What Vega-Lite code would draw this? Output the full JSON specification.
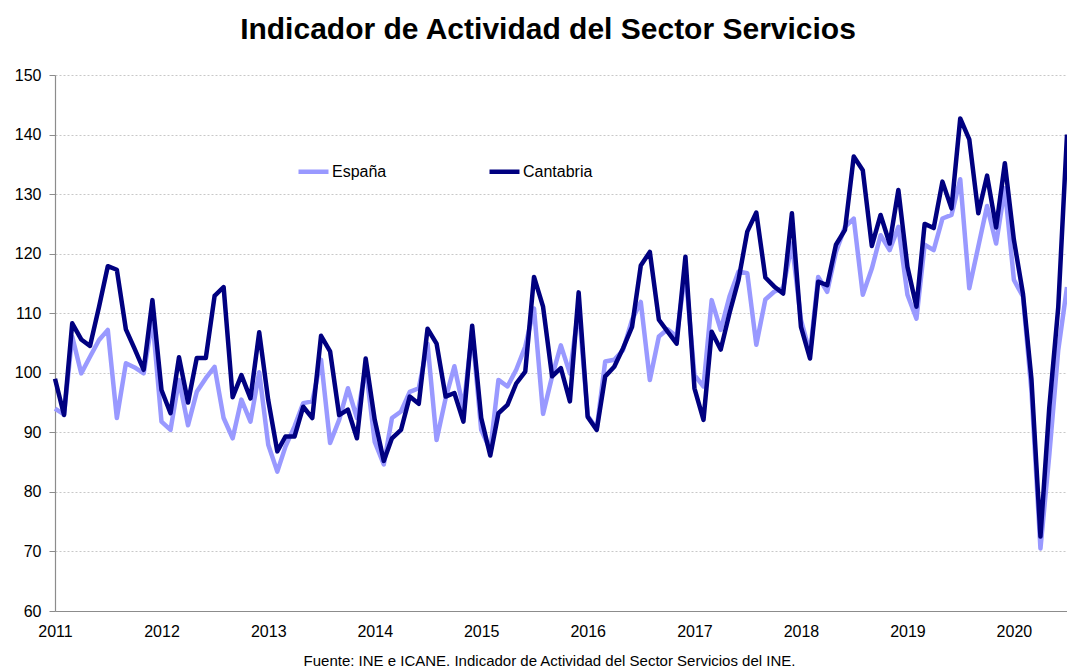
{
  "$schema": "https://vega.github.io/schema/vega-lite/v6.json",
  "width": 1012,
  "height": 536,
  "autosize": {"type": "none"},
  "padding": {"left": 55, "top": 75, "right": 0, "bottom": 57},
  "background": "white",
  "config": {"view": {"stroke": null}, "font": "Liberation Sans"},
  "title": {"text": "Indicador de Actividad del Sector Servicios", "font": "Liberation Sans", "fontSize": 30, "fontWeight": "bold", "color": "black", "anchor": "middle", "dx": -13, "offset": 22},
  "data": {"values": [
    {"fecha":"2011-01-01","serie":"Cantabria","valor":99.0},{"fecha":"2011-02-01","serie":"Cantabria","valor":92.9},{"fecha":"2011-03-01","serie":"Cantabria","valor":108.3},{"fecha":"2011-04-01","serie":"Cantabria","valor":105.6},{"fecha":"2011-05-01","serie":"Cantabria","valor":104.5},{"fecha":"2011-06-01","serie":"Cantabria","valor":111.1},{"fecha":"2011-07-01","serie":"Cantabria","valor":117.9},{"fecha":"2011-08-01","serie":"Cantabria","valor":117.3},{"fecha":"2011-09-01","serie":"Cantabria","valor":107.3},{"fecha":"2011-10-01","serie":"Cantabria","valor":104.0},{"fecha":"2011-11-01","serie":"Cantabria","valor":100.5},{"fecha":"2011-12-01","serie":"Cantabria","valor":112.2},
    {"fecha":"2012-01-01","serie":"Cantabria","valor":97.1},{"fecha":"2012-02-01","serie":"Cantabria","valor":93.2},{"fecha":"2012-03-01","serie":"Cantabria","valor":102.6},{"fecha":"2012-04-01","serie":"Cantabria","valor":95.0},{"fecha":"2012-05-01","serie":"Cantabria","valor":102.5},{"fecha":"2012-06-01","serie":"Cantabria","valor":102.5},{"fecha":"2012-07-01","serie":"Cantabria","valor":112.9},{"fecha":"2012-08-01","serie":"Cantabria","valor":114.4},{"fecha":"2012-09-01","serie":"Cantabria","valor":95.9},{"fecha":"2012-10-01","serie":"Cantabria","valor":99.6},{"fecha":"2012-11-01","serie":"Cantabria","valor":95.7},{"fecha":"2012-12-01","serie":"Cantabria","valor":106.8},
    {"fecha":"2013-01-01","serie":"Cantabria","valor":95.4},{"fecha":"2013-02-01","serie":"Cantabria","valor":86.8},{"fecha":"2013-03-01","serie":"Cantabria","valor":89.3},{"fecha":"2013-04-01","serie":"Cantabria","valor":89.3},{"fecha":"2013-05-01","serie":"Cantabria","valor":94.3},{"fecha":"2013-06-01","serie":"Cantabria","valor":92.4},{"fecha":"2013-07-01","serie":"Cantabria","valor":106.2},{"fecha":"2013-08-01","serie":"Cantabria","valor":103.6},{"fecha":"2013-09-01","serie":"Cantabria","valor":92.9},{"fecha":"2013-10-01","serie":"Cantabria","valor":93.8},{"fecha":"2013-11-01","serie":"Cantabria","valor":89.0},{"fecha":"2013-12-01","serie":"Cantabria","valor":102.4},
    {"fecha":"2014-01-01","serie":"Cantabria","valor":92.1},{"fecha":"2014-02-01","serie":"Cantabria","valor":85.2},{"fecha":"2014-03-01","serie":"Cantabria","valor":89.0},{"fecha":"2014-04-01","serie":"Cantabria","valor":90.4},{"fecha":"2014-05-01","serie":"Cantabria","valor":96.0},{"fecha":"2014-06-01","serie":"Cantabria","valor":94.8},{"fecha":"2014-07-01","serie":"Cantabria","valor":107.4},{"fecha":"2014-08-01","serie":"Cantabria","valor":104.9},{"fecha":"2014-09-01","serie":"Cantabria","valor":96.0},{"fecha":"2014-10-01","serie":"Cantabria","valor":96.6},{"fecha":"2014-11-01","serie":"Cantabria","valor":91.8},{"fecha":"2014-12-01","serie":"Cantabria","valor":107.9},
    {"fecha":"2015-01-01","serie":"Cantabria","valor":92.4},{"fecha":"2015-02-01","serie":"Cantabria","valor":86.1},{"fecha":"2015-03-01","serie":"Cantabria","valor":93.2},{"fecha":"2015-04-01","serie":"Cantabria","valor":94.6},{"fecha":"2015-05-01","serie":"Cantabria","valor":98.2},{"fecha":"2015-06-01","serie":"Cantabria","valor":100.2},{"fecha":"2015-07-01","serie":"Cantabria","valor":116.1},{"fecha":"2015-08-01","serie":"Cantabria","valor":111.1},{"fecha":"2015-09-01","serie":"Cantabria","valor":99.4},{"fecha":"2015-10-01","serie":"Cantabria","valor":100.8},{"fecha":"2015-11-01","serie":"Cantabria","valor":95.2},{"fecha":"2015-12-01","serie":"Cantabria","valor":113.5},
    {"fecha":"2016-01-01","serie":"Cantabria","valor":92.6},{"fecha":"2016-02-01","serie":"Cantabria","valor":90.4},{"fecha":"2016-03-01","serie":"Cantabria","valor":99.4},{"fecha":"2016-04-01","serie":"Cantabria","valor":101.0},{"fecha":"2016-05-01","serie":"Cantabria","valor":104.1},{"fecha":"2016-06-01","serie":"Cantabria","valor":107.7},{"fecha":"2016-07-01","serie":"Cantabria","valor":118.0},{"fecha":"2016-08-01","serie":"Cantabria","valor":120.3},{"fecha":"2016-09-01","serie":"Cantabria","valor":108.9},{"fecha":"2016-10-01","serie":"Cantabria","valor":106.9},{"fecha":"2016-11-01","serie":"Cantabria","valor":104.9},{"fecha":"2016-12-01","serie":"Cantabria","valor":119.5},
    {"fecha":"2017-01-01","serie":"Cantabria","valor":97.4},{"fecha":"2017-02-01","serie":"Cantabria","valor":92.1},{"fecha":"2017-03-01","serie":"Cantabria","valor":106.9},{"fecha":"2017-04-01","serie":"Cantabria","valor":103.9},{"fecha":"2017-05-01","serie":"Cantabria","valor":110.0},{"fecha":"2017-06-01","serie":"Cantabria","valor":115.6},{"fecha":"2017-07-01","serie":"Cantabria","valor":123.7},{"fecha":"2017-08-01","serie":"Cantabria","valor":126.9},{"fecha":"2017-09-01","serie":"Cantabria","valor":116.0},{"fecha":"2017-10-01","serie":"Cantabria","valor":114.5},{"fecha":"2017-11-01","serie":"Cantabria","valor":113.3},{"fecha":"2017-12-01","serie":"Cantabria","valor":126.8},
    {"fecha":"2018-01-01","serie":"Cantabria","valor":107.7},{"fecha":"2018-02-01","serie":"Cantabria","valor":102.4},{"fecha":"2018-03-01","serie":"Cantabria","valor":115.3},{"fecha":"2018-04-01","serie":"Cantabria","valor":114.7},{"fecha":"2018-05-01","serie":"Cantabria","valor":121.5},{"fecha":"2018-06-01","serie":"Cantabria","valor":124.0},{"fecha":"2018-07-01","serie":"Cantabria","valor":136.3},{"fecha":"2018-08-01","serie":"Cantabria","valor":134.0},{"fecha":"2018-09-01","serie":"Cantabria","valor":121.3},{"fecha":"2018-10-01","serie":"Cantabria","valor":126.5},{"fecha":"2018-11-01","serie":"Cantabria","valor":121.7},{"fecha":"2018-12-01","serie":"Cantabria","valor":130.7},
    {"fecha":"2019-01-01","serie":"Cantabria","valor":117.8},{"fecha":"2019-02-01","serie":"Cantabria","valor":111.1},{"fecha":"2019-03-01","serie":"Cantabria","valor":125.0},{"fecha":"2019-04-01","serie":"Cantabria","valor":124.3},{"fecha":"2019-05-01","serie":"Cantabria","valor":132.1},{"fecha":"2019-06-01","serie":"Cantabria","valor":127.6},{"fecha":"2019-07-01","serie":"Cantabria","valor":142.7},{"fecha":"2019-08-01","serie":"Cantabria","valor":139.2},{"fecha":"2019-09-01","serie":"Cantabria","valor":126.8},{"fecha":"2019-10-01","serie":"Cantabria","valor":133.1},{"fecha":"2019-11-01","serie":"Cantabria","valor":124.4},{"fecha":"2019-12-01","serie":"Cantabria","valor":135.2},
    {"fecha":"2020-01-01","serie":"Cantabria","valor":122.3},{"fecha":"2020-02-01","serie":"Cantabria","valor":113.3},{"fecha":"2020-03-01","serie":"Cantabria","valor":99.0},{"fecha":"2020-04-01","serie":"Cantabria","valor":72.5},{"fecha":"2020-05-01","serie":"Cantabria","valor":94.0},{"fecha":"2020-06-01","serie":"Cantabria","valor":111.0},{"fecha":"2020-07-01","serie":"Cantabria","valor":140.0},
    {"fecha":"2011-01-01","serie":"España","valor":94.0},{"fecha":"2011-02-01","serie":"España","valor":93.0},{"fecha":"2011-03-01","serie":"España","valor":106.1},{"fecha":"2011-04-01","serie":"España","valor":99.9},{"fecha":"2011-05-01","serie":"España","valor":102.7},{"fecha":"2011-06-01","serie":"España","valor":105.5},{"fecha":"2011-07-01","serie":"España","valor":107.2},{"fecha":"2011-08-01","serie":"España","valor":92.4},{"fecha":"2011-09-01","serie":"España","valor":101.6},{"fecha":"2011-10-01","serie":"España","valor":100.9},{"fecha":"2011-11-01","serie":"España","valor":99.9},{"fecha":"2011-12-01","serie":"España","valor":109.0},
    {"fecha":"2012-01-01","serie":"España","valor":91.8},{"fecha":"2012-02-01","serie":"España","valor":90.4},{"fecha":"2012-03-01","serie":"España","valor":98.8},{"fecha":"2012-04-01","serie":"España","valor":91.2},{"fecha":"2012-05-01","serie":"España","valor":96.8},{"fecha":"2012-06-01","serie":"España","valor":99.1},{"fecha":"2012-07-01","serie":"España","valor":101.0},{"fecha":"2012-08-01","serie":"España","valor":92.4},{"fecha":"2012-09-01","serie":"España","valor":89.0},{"fecha":"2012-10-01","serie":"España","valor":95.5},{"fecha":"2012-11-01","serie":"España","valor":91.8},{"fecha":"2012-12-01","serie":"España","valor":100.1},
    {"fecha":"2013-01-01","serie":"España","valor":87.9},{"fecha":"2013-02-01","serie":"España","valor":83.4},{"fecha":"2013-03-01","serie":"España","valor":87.6},{"fecha":"2013-04-01","serie":"España","valor":91.0},{"fecha":"2013-05-01","serie":"España","valor":94.9},{"fecha":"2013-06-01","serie":"España","valor":95.2},{"fecha":"2013-07-01","serie":"España","valor":102.2},{"fecha":"2013-08-01","serie":"España","valor":88.2},{"fecha":"2013-09-01","serie":"España","valor":92.1},{"fecha":"2013-10-01","serie":"España","valor":97.4},{"fecha":"2013-11-01","serie":"España","valor":92.4},{"fecha":"2013-12-01","serie":"España","valor":101.0},
    {"fecha":"2014-01-01","serie":"España","valor":88.4},{"fecha":"2014-02-01","serie":"España","valor":84.6},{"fecha":"2014-03-01","serie":"España","valor":92.4},{"fecha":"2014-04-01","serie":"España","valor":93.5},{"fecha":"2014-05-01","serie":"España","valor":96.8},{"fecha":"2014-06-01","serie":"España","valor":97.4},{"fecha":"2014-07-01","serie":"España","valor":104.9},{"fecha":"2014-08-01","serie":"España","valor":88.7},{"fecha":"2014-09-01","serie":"España","valor":95.7},{"fecha":"2014-10-01","serie":"España","valor":101.1},{"fecha":"2014-11-01","serie":"España","valor":94.0},{"fecha":"2014-12-01","serie":"España","valor":107.0},
    {"fecha":"2015-01-01","serie":"España","valor":90.4},{"fecha":"2015-02-01","serie":"España","valor":87.0},{"fecha":"2015-03-01","serie":"España","valor":98.8},{"fecha":"2015-04-01","serie":"España","valor":97.7},{"fecha":"2015-05-01","serie":"España","valor":100.5},{"fecha":"2015-06-01","serie":"España","valor":104.4},{"fecha":"2015-07-01","serie":"España","valor":110.8},{"fecha":"2015-08-01","serie":"España","valor":93.1},{"fecha":"2015-09-01","serie":"España","valor":99.4},{"fecha":"2015-10-01","serie":"España","valor":104.6},{"fecha":"2015-11-01","serie":"España","valor":99.9},{"fecha":"2015-12-01","serie":"España","valor":111.0},
    {"fecha":"2016-01-01","serie":"España","valor":92.8},{"fecha":"2016-02-01","serie":"España","valor":90.6},{"fecha":"2016-03-01","serie":"España","valor":101.9},{"fecha":"2016-04-01","serie":"España","valor":102.2},{"fecha":"2016-05-01","serie":"España","valor":103.8},{"fecha":"2016-06-01","serie":"España","valor":108.9},{"fecha":"2016-07-01","serie":"España","valor":111.9},{"fecha":"2016-08-01","serie":"España","valor":98.8},{"fecha":"2016-09-01","serie":"España","valor":106.1},{"fecha":"2016-10-01","serie":"España","valor":107.3},{"fecha":"2016-11-01","serie":"España","valor":106.1},{"fecha":"2016-12-01","serie":"España","valor":117.0},
    {"fecha":"2017-01-01","serie":"España","valor":99.6},{"fecha":"2017-02-01","serie":"España","valor":97.7},{"fecha":"2017-03-01","serie":"España","valor":112.2},{"fecha":"2017-04-01","serie":"España","valor":107.2},{"fecha":"2017-05-01","serie":"España","valor":112.8},{"fecha":"2017-06-01","serie":"España","valor":117.0},{"fecha":"2017-07-01","serie":"España","valor":116.7},{"fecha":"2017-08-01","serie":"España","valor":104.7},{"fecha":"2017-09-01","serie":"España","valor":112.3},{"fecha":"2017-10-01","serie":"España","valor":113.6},{"fecha":"2017-11-01","serie":"España","valor":114.2},{"fecha":"2017-12-01","serie":"España","valor":121.7},
    {"fecha":"2018-01-01","serie":"España","valor":108.9},{"fecha":"2018-02-01","serie":"España","valor":103.3},{"fecha":"2018-03-01","serie":"España","valor":116.1},{"fecha":"2018-04-01","serie":"España","valor":113.6},{"fecha":"2018-05-01","serie":"España","valor":120.3},{"fecha":"2018-06-01","serie":"España","valor":124.5},{"fecha":"2018-07-01","serie":"España","valor":125.9},{"fecha":"2018-08-01","serie":"España","valor":113.1},{"fecha":"2018-09-01","serie":"España","valor":117.5},{"fecha":"2018-10-01","serie":"España","valor":123.1},{"fecha":"2018-11-01","serie":"España","valor":120.6},{"fecha":"2018-12-01","serie":"España","valor":124.5},
    {"fecha":"2019-01-01","serie":"España","valor":113.1},{"fecha":"2019-02-01","serie":"España","valor":109.1},{"fecha":"2019-03-01","serie":"España","valor":121.5},{"fecha":"2019-04-01","serie":"España","valor":120.6},{"fecha":"2019-05-01","serie":"España","valor":125.9},{"fecha":"2019-06-01","serie":"España","valor":126.5},{"fecha":"2019-07-01","serie":"España","valor":132.5},{"fecha":"2019-08-01","serie":"España","valor":114.2},{"fecha":"2019-09-01","serie":"España","valor":121.2},{"fecha":"2019-10-01","serie":"España","valor":128.0},{"fecha":"2019-11-01","serie":"España","valor":121.7},{"fecha":"2019-12-01","serie":"España","valor":131.0},
    {"fecha":"2020-01-01","serie":"España","valor":115.6},{"fecha":"2020-02-01","serie":"España","valor":112.8},{"fecha":"2020-03-01","serie":"España","valor":97.0},{"fecha":"2020-04-01","serie":"España","valor":70.5},{"fecha":"2020-05-01","serie":"España","valor":86.0},{"fecha":"2020-06-01","serie":"España","valor":103.8},{"fecha":"2020-07-01","serie":"España","valor":114.4}
  ]},
  "encoding": {
    "x": {
      "field": "fecha", "type": "temporal",
      "scale": {"type": "utc", "domain": [{"year": 2011, "month": 1, "date": 1, "utc": true}, {"year": 2020, "month": 7, "date": 1, "utc": true}]},
      "axis": {
        "title": "Fuente: INE e ICANE. Indicador de Actividad del Sector Servicios del INE.",
        "titleFont": "Liberation Sans", "titleFontSize": 15, "titleFontWeight": "normal", "titleColor": "black",
        "titleX": 494, "titleY": 54, "titleBaseline": "alphabetic", "titleAlign": "center",
        "format": "%Y", "tickCount": {"interval": "year", "step": 1},
        "labelFlush": false, "labelOverlap": false, "ticks": false, "grid": false,
        "labelFont": "Liberation Sans", "labelFontSize": 16, "labelColor": "black", "labelPadding": 12,
        "domainColor": "#8c8c8c", "domainWidth": 1.2
      }
    },
    "y": {
      "field": "valor", "type": "quantitative",
      "scale": {"domain": [60, 150], "nice": false, "zero": false},
      "axis": {
        "title": null, "values": [60, 70, 80, 90, 100, 110, 120, 130, 140, 150],
        "grid": true, "gridColor": "#c8c8c8", "gridDash": [2, 2], "gridWidth": 1,
        "tickSize": 6, "tickColor": "#8c8c8c", "domainColor": "#8c8c8c", "domainWidth": 1.2,
        "labelFont": "Liberation Sans", "labelFontSize": 16, "labelColor": "black", "labelPadding": 8
      }
    },
    "color": {
      "field": "serie", "type": "nominal",
      "scale": {"domain": ["España", "Cantabria"], "range": ["#9999ff", "#000080"]},
      "legend": {
        "title": null, "orient": "none", "legendX": 241, "legendY": 79, "direction": "horizontal",
        "symbolType": "stroke", "symbolSize": 900, "symbolStrokeWidth": 4.5,
        "labelFont": "Liberation Sans", "labelFontSize": 16, "labelColor": "black", "labelOffset": 1,
        "columnPadding": 93
      }
    }
  },
  "layer": [
    {"transform": [{"filter": "datum.serie === 'España'"}], "mark": {"type": "line", "strokeWidth": 4.5, "strokeJoin": "round"}},
    {"transform": [{"filter": "datum.serie === 'Cantabria'"}], "mark": {"type": "line", "strokeWidth": 4.5, "strokeJoin": "round"}}
  ]
}
